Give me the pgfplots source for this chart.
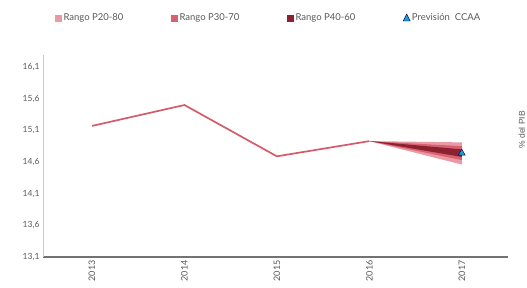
\documentclass[border=0pt]{standalone}
\usepackage{pgfplots}
\pgfplotsset{compat=1.18}
\usepackage{fontspec}
\setmainfont{Lato}
\newfontfamily\arialf{Liberation Sans}
\definecolor{pA}{HTML}{E99AA4}
\definecolor{pB}{HTML}{D9606E}
\definecolor{pC}{HTML}{8B2232}
\definecolor{lineC}{HTML}{D45B6A}
\definecolor{triC}{HTML}{1E9BD7}
\definecolor{txt}{HTML}{595959}
\newcommand{\lent}[1]{\makebox[109pt][l]{\,#1}}
\begin{document}
\begin{tikzpicture}[x=1pt,y=1pt]
\useasboundingbox (-43pt,-31pt) rectangle (484pt,257pt);
\begin{axis}[
  at={(0,0)}, anchor=south west,
  scale only axis, width=465pt, height=202pt,
  xmin=2012.47, xmax=2017.5,
  ymin=13.1, ymax=16.29,
  axis x line*=bottom, axis y line*=left,
  x axis line style={draw=gray!90!black, line width=1.2pt, -},
  y axis line style={draw=gray!40, line width=0.5pt, -},
  xtick={2013,2014,2015,2016,2017},
  xticklabels={2013,2014,2015,2016,2017},
  x tick label style={rotate=90, anchor=east, font=\fontsize{9}{10}\selectfont, text=txt},
  ytick={13.1,13.6,14.1,14.6,15.1,15.6,16.1},
  yticklabels={{13,1},{13,6},{14,1},{14,6},{15,1},{15,6},{16,1}},
  y tick label style={font=\fontsize{8.5}{9}\selectfont, text=txt},
  major tick length=0pt,
  tick style={draw=none},
  legend columns=4,
  legend style={at={(0.0258,1.183)}, anchor=west, draw=none, fill=none,
    inner sep=0pt, outer sep=0pt, column sep=0pt,
    nodes={inner sep=0pt, outer sep=0pt},
    font=\fontsize{9.5}{10}\selectfont, text=txt},
  legend cell align=left,
  clip=false,
]
\addplot[fill=pA, draw=none, area legend,
  legend image code/.code={\fill[pA] (0pt,-3.5pt) rectangle (7pt,3.5pt);}]
  coordinates {(2016,14.93) (2017,14.91) (2017,14.56) (2016,14.93)};
\addlegendentry{\lent{Rango P20-80}}
\addplot[fill=pB, draw=none, area legend,
  legend image code/.code={\fill[pB] (0pt,-3.5pt) rectangle (7pt,3.5pt);}]
  coordinates {(2016,14.93) (2017,14.85) (2017,14.63) (2016,14.93)};
\addlegendentry{\lent{Rango P30-70}}
\addplot[fill=pC, draw=none, area legend,
  legend image code/.code={\fill[pC] (0pt,-3.5pt) rectangle (7pt,3.5pt);}]
  coordinates {(2016,14.93) (2017,14.80) (2017,14.68) (2016,14.93)};
\addlegendentry{\lent{Rango P40-60}}
\addplot[only marks, mark=triangle*, mark size=4pt, mark options={fill=triC, draw=black!70!blue, line width=0.4pt},
  legend image code/.code={\filldraw[fill=triC, draw=black!70!blue, line width=0.4pt] (0pt,-3pt) -- (7pt,-3pt) -- (3.5pt,4pt) -- cycle;}]
  coordinates {(2017,14.74)};
\addlegendentry{\,Previsión~~CCAA}
\addplot[lineC, line width=1.7pt, forget plot]
  coordinates {(2013,15.17) (2014,15.50) (2015,14.69) (2016,14.93)};
\node[rotate=90, font=\arialf\fontsize{8.5}{9}\selectfont, text=txt] at (rel axis cs:1.03,0.63) {\% del PIB};
\end{axis}
\end{tikzpicture}
\end{document}
